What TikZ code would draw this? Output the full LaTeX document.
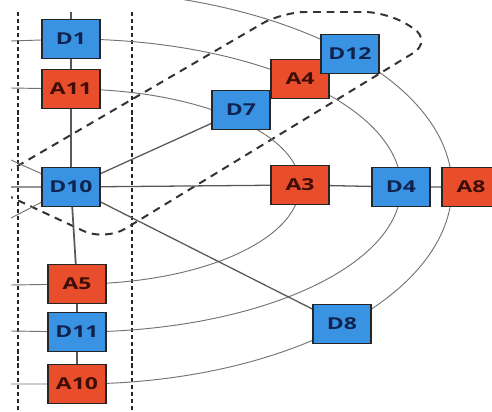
\documentclass[tikz,border=0pt]{standalone}
\usepackage{fontspec}
\newfontfamily\boxfont[FakeStretch=1.4]{Open Sans}
\usetikzlibrary{positioning,backgrounds}
\definecolor{dblue}{HTML}{3A93E2}
\definecolor{dred}{HTML}{E84E2C}
\definecolor{tblue}{HTML}{10234F}
\definecolor{tred}{HTML}{3E0E06}
\tikzset{
  dbox/.style={rectangle, draw=black!85, line width=1.3pt, fill=dblue,
    minimum width=1.74cm, minimum height=1.16cm, inner sep=0pt,
    font=\boxfont\bfseries\fontsize{14}{16}\selectfont, text=tblue},
  abox/.style={dbox, fill=dred, text=tred},
  link/.style={draw=black!65, line width=1.1pt},
  orbit/.style={draw=black!55, line width=0.8pt},
  lane/.style={draw=black!85, line width=2pt, dash pattern=on 3.5pt off 2.5pt},
  group/.style={draw=black!80, line width=1.7pt, dash pattern=on 6.5pt off 5pt,
    rounded corners=20pt}
}

\begin{document}
\begin{tikzpicture}[x=0.03cm, y=-0.03cm]
\useasboundingbox (0,0) rectangle (492,412);

% left column
\node[dbox] (d1) at (71,39) {D1};
\node[abox] (a11) at (71,89) {A11};
\node[dbox] (d10) at (71,187) {D10};
\node[abox] (a5) at (77,284) {A5};
\node[dbox] (d11) at (77,332) {D11};
\node[abox] (a10) at (77,384) {A10};

% right part
\node[dbox] (d7) at (241,110) {D7};
\node[abox] (a4) at (300,79) {A4};
\node[dbox] (d12) at (350,54) {D12};
\node[abox] (a3) at (300,185) {A3};
\node[dbox] (d4) at (401,187) {D4};
\node[abox] (a8) at (471,187) {A8};
\node[dbox] (d8) at (342,324) {D8};

\coordinate (top) at (71,12);
\coordinate (w10) at (11,187);
\coordinate (w10n) at (11,160);
\coordinate (w10s) at (11,218);
\coordinate (w1) at (11,41);
\coordinate (w11) at (11,331);
\coordinate (w2) at (11,88);
\coordinate (w5) at (11,285);
\coordinate (w3) at (11,384);
\coordinate (n3) at (63,-10);
\coordinate (e3) at (452,187);

\begin{scope}[on background layer]
\clip (11,0) rectangle (492,412);

% lanes
\draw[lane] (18,12) -- (18,412);
\draw[lane] (132,12) -- (132,412);

% group
\draw[group] (-15,185) -- (282,12) -- (388,12) -- (433,41) -- (105,241) -- cycle;

% orbits
\draw[orbit] (w1) -- (d1.center) .. controls +(182,0) and +(0,-81) .. (d4.center)
  .. controls +(0,80) and +(179,0) .. (d11.center) -- (w11);
\draw[orbit] (w2) -- (a11.center) .. controls +(126,0) and +(0,-52) .. (a3.center)
  .. controls +(0,55) and +(123,0) .. (a5.center) -- (w5);
\draw[orbit] (n3) .. controls +(215,0) and +(0,-109) .. (e3)
  .. controls +(0,109) and +(207,0) .. (a10.center) -- (w3);
\draw[orbit] (w10n) -- (d10.center) -- (w10s);

% links
\draw[link, line width=1.5pt] (top) -- (d1) -- (a11) -- (d10) -- (a5) -- (d11) -- (a10);
\draw[link] (w10) -- (d10) -- (a3) -- (d4) -- (a8);
\draw[link] (d10) -- (d7);
\draw[link] (d10) -- (d8);
\end{scope}
\end{tikzpicture}
\end{document}
